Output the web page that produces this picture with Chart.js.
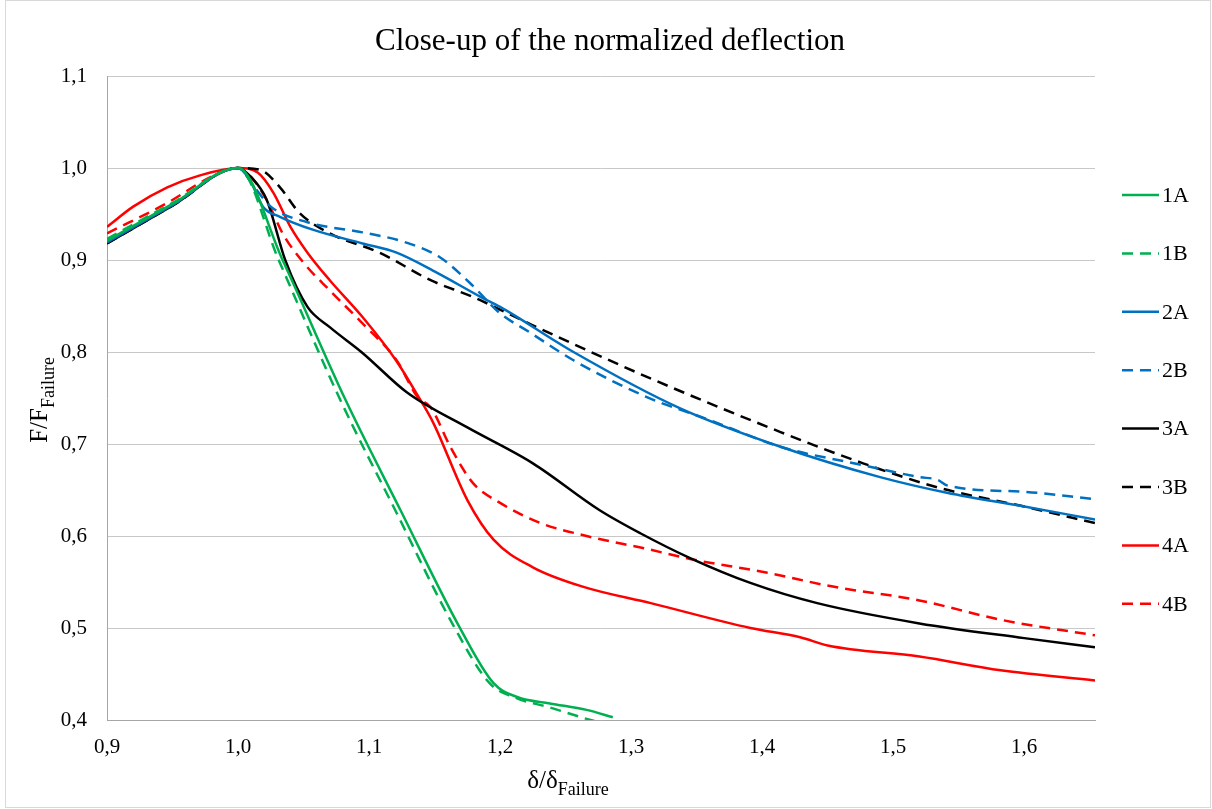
<!DOCTYPE html>
<html>
<head>
<meta charset="utf-8">
<script src="https://cdn.jsdelivr.net/npm/chart.js@4.4.0/dist/chart.umd.min.js"></script>
<style>
  html, body { margin: 0; padding: 0; background: #fff; }
  canvas { display: block; }
</style>
</head>
<body>
<canvas id="chart" width="1212" height="809"></canvas>
<script>
// values: delta/delta_failure (x) and F/F_failure (y)
const x1A = [0.9, 0.95, 1.0, 1.034, 1.082, 1.124, 1.169, 1.195, 1.213, 1.238, 1.266, 1.286];
const y1A = [0.921, 0.961, 1.0, 0.9, 0.748, 0.628, 0.501, 0.44, 0.425, 0.418, 0.411, 0.403];

const x1B = [0.9, 0.95, 1.0, 1.031, 1.078, 1.12, 1.165, 1.192, 1.212, 1.237, 1.269, 1.28];
const y1B = [0.923, 0.962, 1.0, 0.9, 0.748, 0.628, 0.501, 0.44, 0.424, 0.414, 0.4, 0.396];

const x2A = [0.9, 0.95, 1.0, 1.009, 1.019, 1.032, 1.057, 1.095, 1.121, 1.152, 1.185, 1.2, 1.256, 1.337, 1.414, 1.49, 1.541, 1.6, 1.654];
const y2A = [0.919, 0.96, 1.0, 0.987, 0.958, 0.947, 0.933, 0.918, 0.908, 0.886, 0.86, 0.849, 0.8, 0.739, 0.697, 0.664, 0.647, 0.632, 0.618];

const x2B = [0.9, 0.95, 1.0, 1.012, 1.025, 1.053, 1.095, 1.126, 1.154, 1.177, 1.2, 1.223, 1.256, 1.312, 1.36, 1.414, 1.477, 1.52, 1.534, 1.541, 1.6, 1.654];
const y2B = [0.92, 0.96, 1.0, 0.98, 0.958, 0.941, 0.93, 0.92, 0.903, 0.875, 0.842, 0.821, 0.791, 0.751, 0.726, 0.697, 0.677, 0.664, 0.661, 0.655, 0.648, 0.64];

const x3A = [0.9, 0.95, 1.0, 1.01, 1.022, 1.036, 1.053, 1.07, 1.095, 1.129, 1.175, 1.225, 1.276, 1.307, 1.345, 1.391, 1.442, 1.52, 1.6, 1.654];
const y3A = [0.918, 0.959, 1.0, 0.99, 0.965, 0.9, 0.849, 0.827, 0.799, 0.756, 0.718, 0.679, 0.628, 0.603, 0.576, 0.549, 0.527, 0.505, 0.489, 0.479];

const x3B = [0.9, 0.95, 1.0, 1.017, 1.032, 1.047, 1.07, 1.108, 1.147, 1.179, 1.225, 1.312, 1.414, 1.477, 1.536, 1.6, 1.654];
const y3B = [0.918, 0.959, 1.0, 0.998, 0.979, 0.951, 0.929, 0.908, 0.878, 0.86, 0.829, 0.773, 0.713, 0.679, 0.652, 0.632, 0.614];

const x4A = [0.9, 0.92, 0.946, 0.971, 1.0, 1.015, 1.027, 1.04, 1.053, 1.07, 1.095, 1.121, 1.137, 1.149, 1.175, 1.195, 1.225, 1.263, 1.315, 1.391, 1.429, 1.45, 1.52, 1.582, 1.654];
const y4A = [0.936, 0.958, 0.979, 0.992, 1.0, 0.995, 0.973, 0.936, 0.908, 0.878, 0.838, 0.79, 0.753, 0.723, 0.639, 0.596, 0.566, 0.545, 0.527, 0.5, 0.49, 0.481, 0.469, 0.454, 0.443];

const x4B = [0.9, 0.946, 0.979, 1.0, 1.01, 1.022, 1.034, 1.05, 1.07, 1.095, 1.121, 1.137, 1.147, 1.162, 1.179, 1.2, 1.231, 1.263, 1.315, 1.345, 1.404, 1.454, 1.52, 1.582, 1.654];
const y4B = [0.929, 0.962, 0.99, 1.0, 0.99, 0.965, 0.929, 0.897, 0.867, 0.831, 0.791, 0.751, 0.74, 0.697, 0.658, 0.636, 0.614, 0.601, 0.585, 0.575, 0.56, 0.545, 0.53, 0.509, 0.492];

const seriesNames = ['1A', '1B', '2A', '2B', '3A', '3B', '4A', '4B'];
const seriesX = [x1A, x1B, x2A, x2B, x3A, x3B, x4A, x4B];
const seriesY = [y1A, y1B, y2A, y2B, y3A, y3B, y4A, y4B];
const seriesColors = ['#00b050', '#00b050', '#0070c0', '#0070c0', '#000000', '#000000', '#ff0000', '#ff0000'];

const serif = "'Times New Roman', 'Liberation Serif', serif";
const dash = [11, 7];

const datasets = seriesNames.map((name, i) => ({
  label: name,
  data: seriesX[i].map((x, j) => ({ x: x, y: seriesY[i][j] })),
  borderColor: seriesColors[i],
  borderWidth: 2.5,
  borderDash: name.endsWith('B') ? dash : [],
  pointRadius: 0,
  fill: false,
  cubicInterpolationMode: 'monotone'
}));

// F/F_Failure style text with a lowered subscript
function drawSub(ctx, main, sub, cx, base) {
  ctx.font = '25px ' + serif;
  const w1 = ctx.measureText(main).width;
  ctx.font = '18px ' + serif;
  const w2 = ctx.measureText(sub).width;
  const x0 = cx - (w1 + w2) / 2;
  ctx.textAlign = 'left';
  ctx.textBaseline = 'alphabetic';
  ctx.font = '25px ' + serif;
  ctx.fillText(main, x0, base);
  ctx.font = '18px ' + serif;
  ctx.fillText(sub, x0 + w1, base + 7);
}

const decor = {
  id: 'decor',
  afterDraw(chart) {
    const ctx = chart.ctx;
    ctx.save();
    ctx.strokeStyle = '#d9d9d9';
    ctx.lineWidth = 1;
    ctx.strokeRect(5.5, 0.5, 1205, 807);

    ctx.fillStyle = '#000';
    ctx.font = '31px ' + serif;
    ctx.textAlign = 'center';
    ctx.textBaseline = 'alphabetic';
    ctx.fillText('Close-up of the normalized deflection', 610, 50);

    drawSub(ctx, 'δ/δ', 'Failure', 568, 788);

    ctx.save();
    ctx.translate(47, 400);
    ctx.rotate(-Math.PI / 2);
    drawSub(ctx, 'F/F', 'Failure', 0, 0);
    ctx.restore();

    // legend on the right
    chart.data.datasets.forEach((ds, i) => {
      const y = 195 + i * 58.4;
      ctx.strokeStyle = ds.borderColor;
      ctx.lineWidth = 2.5;
      ctx.setLineDash(ds.borderDash);
      ctx.beginPath();
      ctx.moveTo(1122, y);
      ctx.lineTo(1159, y);
      ctx.stroke();
      ctx.setLineDash([]);
      ctx.fillStyle = '#000';
      ctx.font = '22px ' + serif;
      ctx.textAlign = 'left';
      ctx.textBaseline = 'middle';
      ctx.fillText(ds.label, 1162, y + 1);
    });
    ctx.restore();
  }
};

const comma = (v) => v.toFixed(1).replace('.', ',');

new Chart(document.getElementById('chart'), {
  type: 'line',
  data: { datasets: datasets },
  plugins: [decor],
  options: {
    responsive: false,
    animation: false,
    devicePixelRatio: 1,
    layout: { padding: { top: 76, right: 117, bottom: 0, left: 0 } },
    plugins: {
      legend: { display: false },
      tooltip: { enabled: false }
    },
    scales: {
      x: {
        type: 'linear',
        min: 0.9,
        max: 1.654,
        grid: { display: false, drawTicks: false },
        border: { display: true, color: '#a6a6a6', width: 1 },
        ticks: {
          stepSize: 0.1,
          includeBounds: false,
          padding: 15,
          color: '#000',
          font: { family: serif, size: 21 },
          callback: comma
        },
        afterFit(scale) { scale.height = 89; }
      },
      y: {
        min: 0.4,
        max: 1.1,
        grid: { color: '#c8c8c8', drawTicks: false },
        border: { display: true, color: '#a6a6a6', width: 1 },
        ticks: {
          stepSize: 0.1,
          padding: 20,
          color: '#000',
          font: { family: serif, size: 21 },
          callback: comma
        },
        afterFit(scale) { scale.width = 107; }
      }
    }
  }
});
</script>
</body>
</html>
